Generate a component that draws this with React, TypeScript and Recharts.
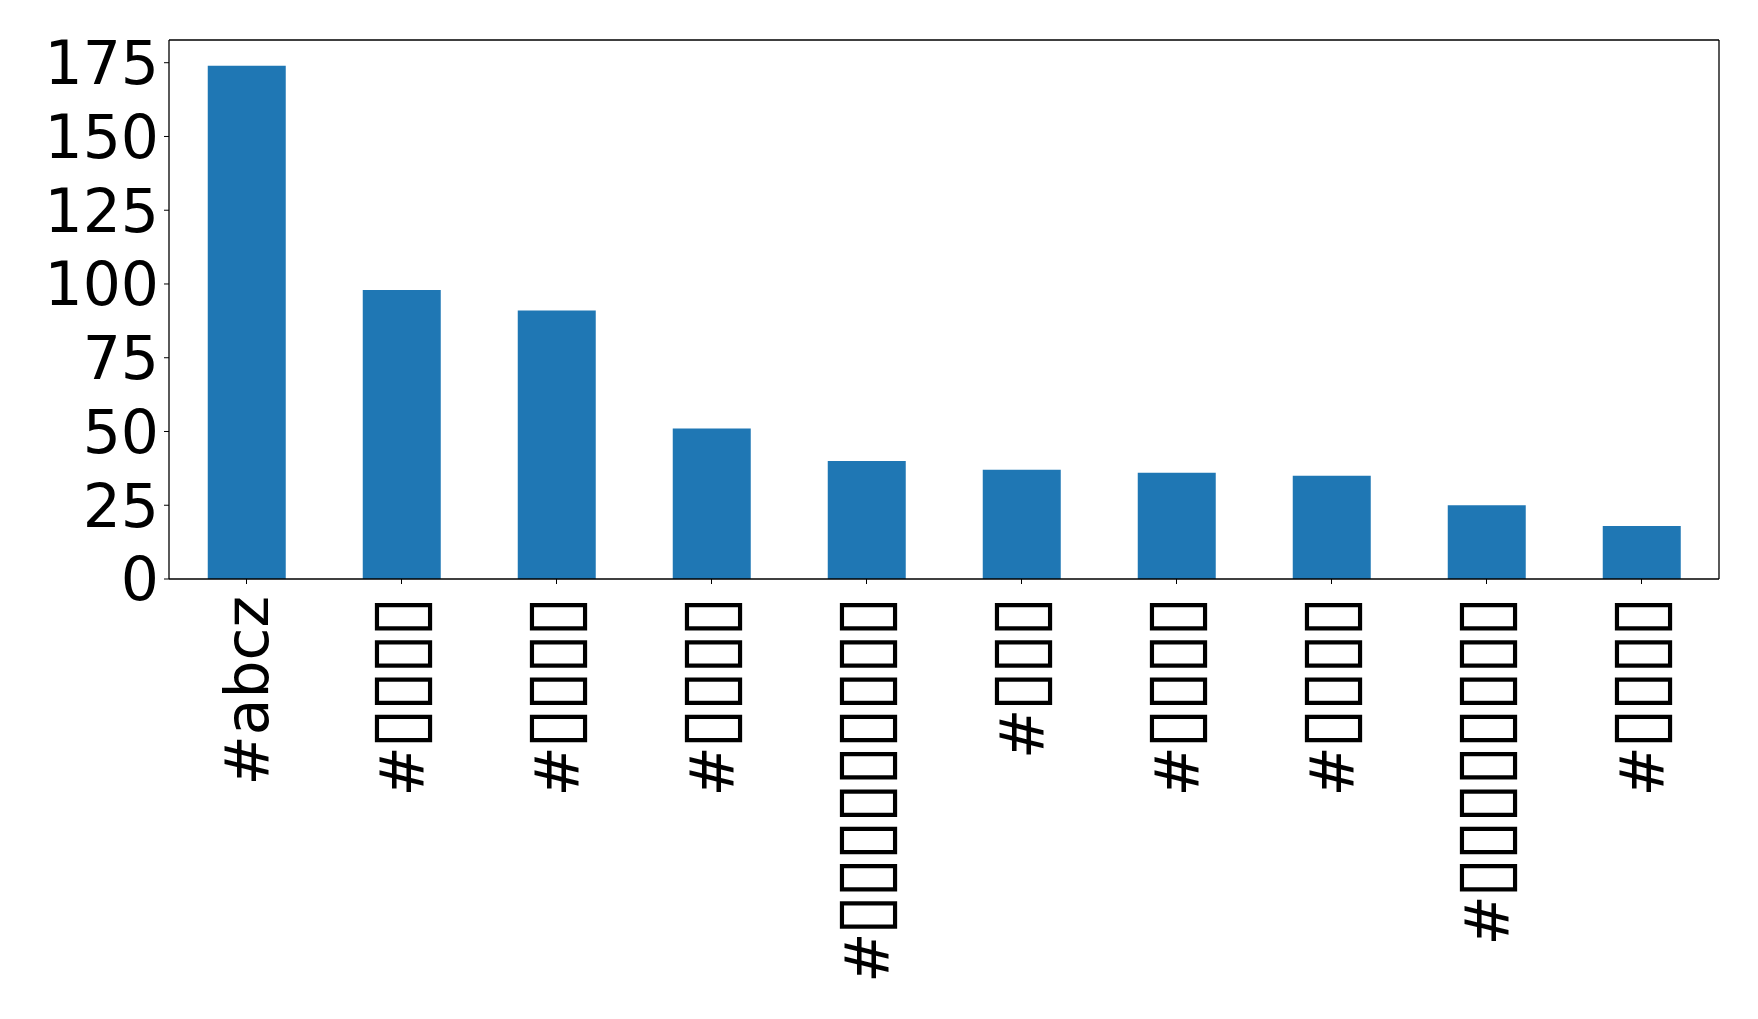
import { Bar, BarChart, CartesianGrid, XAxis, YAxis } from "recharts";

// hashtag labels: glyphs that the original font could not draw show as boxes
const tags = [
  "#abcz",
  "#▯▯▯▯",
  "#▯▯▯▯",
  "#▯▯▯▯",
  "#▯▯▯▯▯▯▯▯▯",
  "#▯▯▯",
  "#▯▯▯▯",
  "#▯▯▯▯",
  "#▯▯▯▯▯▯▯▯",
  "#▯▯▯▯",
];
const counts = [174, 98, 91, 51, 40, 37, 36, 35, 25, 18];
const yTicks = [0, 25, 50, 75, 100, 125, 150, 175];

const data = tags.map((tag, i) => ({ tag, count: counts[i] }));

const font = "'DejaVu Sans', sans-serif";

function TagTick({ x, y, payload }: any) {
  const value: string = payload.value;
  const boxed = value.includes("▯");
  return (
    <g transform={`translate(${x},${y})`}>
      <text
        transform="rotate(-90)"
        textAnchor="end"
        dy="0.36em"
        x={boxed ? -4 : 0}
        fontFamily={font}
        fontSize={60}
        fill="#000"
      >
        {boxed ? (
          <>
            <tspan>{value.slice(0, 1)}</tspan>
            <tspan fontSize={75} letterSpacing={-4} dx={-3}>
              {value.slice(1)}
            </tspan>
          </>
        ) : (
          value
        )}
      </text>
    </g>
  );
}

export default function App() {
  return (
    <BarChart
      width={1750}
      height={1000}
      data={data}
      margin={{ top: 32, right: 39, left: 0, bottom: 0 }}
      barCategoryGap="25%"
    >
      {/* top and right spines of the frame */}
      <CartesianGrid
        stroke="#000"
        strokeWidth={1.3}
        horizontalCoordinatesGenerator={({ offset }: any) => [offset.top]}
        verticalCoordinatesGenerator={({ offset }: any) => [offset.left + offset.width]}
      />
      <XAxis
        dataKey="tag"
        height={429}
        interval={0}
        tick={<TagTick />}
        tickSize={5}
        tickMargin={12}
        axisLine={{ stroke: "#000", strokeWidth: 1.3 }}
        tickLine={{ stroke: "#000" }}
      />
      <YAxis
        width={161}
        domain={[0, 182.7]}
        ticks={yTicks}
        interval={0}
        tickSize={5}
        tickMargin={5}
        tick={{ fill: "#000", fontSize: 60, fontFamily: font }}
        axisLine={{ stroke: "#000", strokeWidth: 1.3 }}
        tickLine={{ stroke: "#000" }}
      />
      <Bar dataKey="count" fill="#1f77b4" isAnimationActive={false} />
    </BarChart>
  );
}
